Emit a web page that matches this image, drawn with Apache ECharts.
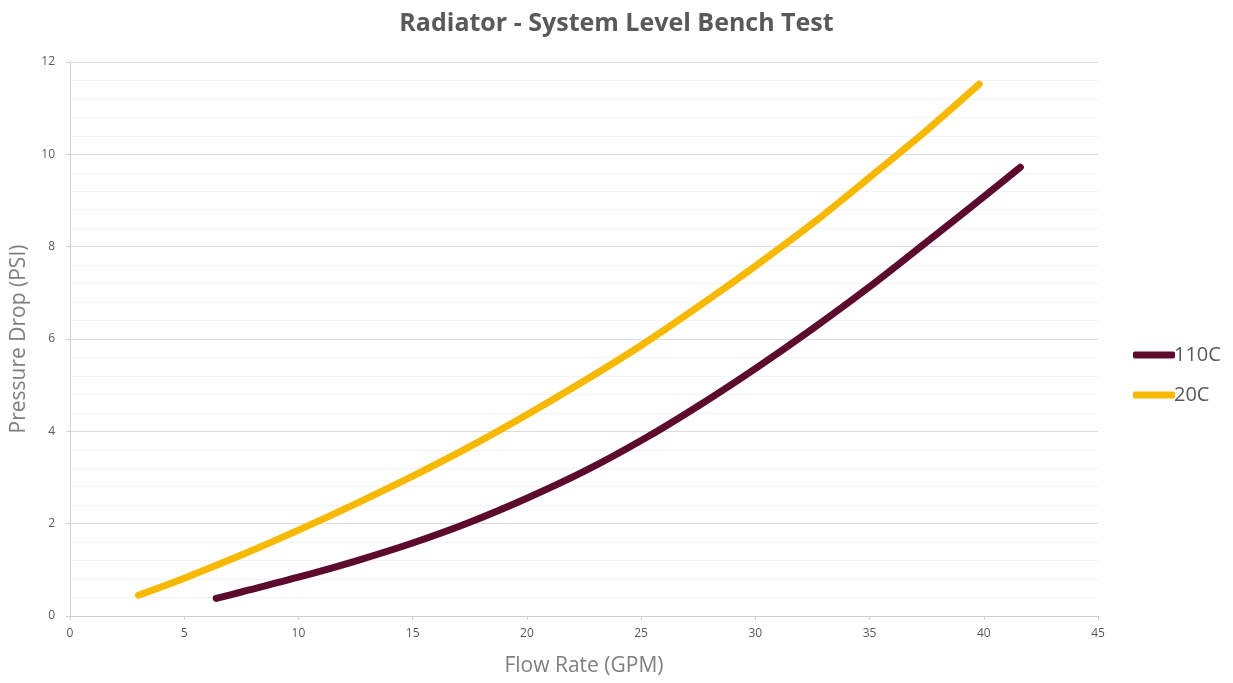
<!DOCTYPE html>
<html>
<head>
<meta charset="utf-8">
<script src="https://cdn.jsdelivr.net/npm/echarts@6/dist/echarts.min.js"></script>
<style>html,body{margin:0;padding:0;background:#fff}#c{width:1233px;height:683px}</style>
</head>
<body>
<div id="c"></div>
<script>
const seriesNames = ['110C', '20C'];
const flow110 = [6.4, 7.5, 10, 12.5, 15, 17.5, 20, 22.5, 25, 27.5, 30, 32.5, 35, 37.5, 40, 41.6];
const psi110  = [0.38, 0.52, 0.84, 1.19, 1.58, 2.03, 2.55, 3.13, 3.8, 4.55, 5.36, 6.22, 7.13, 8.1, 9.08, 9.72];
const flow20  = [3, 5, 7.5, 10, 12.5, 15, 17.5, 20, 22.5, 25, 27.5, 30, 32.5, 35, 37.5, 39.8];
const psi20   = [0.45, 0.82, 1.32, 1.86, 2.43, 3.03, 3.67, 4.36, 5.09, 5.86, 6.7, 7.58, 8.5, 9.5, 10.52, 11.52];
const colors = ['#5c0a2e', '#f7b900'];

const chart = echarts.init(document.getElementById('c'));
const font = '"Open Sans", "Noto Sans", sans-serif';
chart.setOption({
  animation: false,
  textStyle: { fontFamily: font },
  title: {
    text: 'Radiator - System Level Bench Test',
    left: 'center', top: 6,
    textStyle: { fontFamily: font, fontSize: 25, fontWeight: 'bold', color: '#595959' }
  },
  legend: {
    orient: 'vertical', left: 1128, top: 340,
    itemWidth: 42, itemHeight: 7, itemGap: 20,
    icon: 'roundRect',
    textStyle: { fontFamily: font, fontSize: 20, color: '#595959', padding: [0,0,0,-6] },
    data: seriesNames
  },
  grid: { left: 70, right: 135, top: 62, bottom: 67, containLabel: false, outerBoundsMode: 'none' },
  xAxis: {
    type: 'value', min: 0, max: 45, interval: 5,
    name: 'Flow Rate (GPM)', nameLocation: 'middle', nameGap: 40,
    nameTextStyle: { fontSize: 21, color: '#7f7f7f' },
    axisLine: { show: true, lineStyle: { color: '#d0d0d0', width: 1 } },
    axisTick: { show: true, length: 4, lineStyle: { color: '#d0d0d0' } },
    axisLabel: { fontSize: 12, color: '#595959', margin: 12 },
    splitLine: { show: false }
  },
  yAxis: {
    type: 'value', min: 0, max: 12, interval: 2,
    name: 'Pressure Drop (PSI)', nameLocation: 'middle', nameGap: 40,
    nameTextStyle: { fontSize: 21, color: '#7f7f7f' },
    axisLine: { show: true, lineStyle: { color: '#d0d0d0', width: 1 } },
    axisTick: { show: true, length: 4, lineStyle: { color: '#d0d0d0' } },
    axisLabel: { fontSize: 12, color: '#595959', margin: 15 },
    splitLine: { show: true, lineStyle: { color: '#dcdcdc', width: 1 } },
    minorTick: { show: false, splitNumber: 5 },
    minorSplitLine: { show: true, lineStyle: { color: '#f3f3f3', width: 1 } }
  },
  series: [
    {
      name: seriesNames[0], type: 'line', smooth: 0.3, showSymbol: false,
      data: flow110.map((x, i) => [x, psi110[i]]),
      lineStyle: { color: colors[0], width: 7, cap: 'round' },
      itemStyle: { color: colors[0] }
    },
    {
      name: seriesNames[1], type: 'line', smooth: 0.3, showSymbol: false,
      data: flow20.map((x, i) => [x, psi20[i]]),
      lineStyle: { color: colors[1], width: 7, cap: 'round' },
      itemStyle: { color: colors[1] }
    }
  ]
});
</script>
</body>
</html>
